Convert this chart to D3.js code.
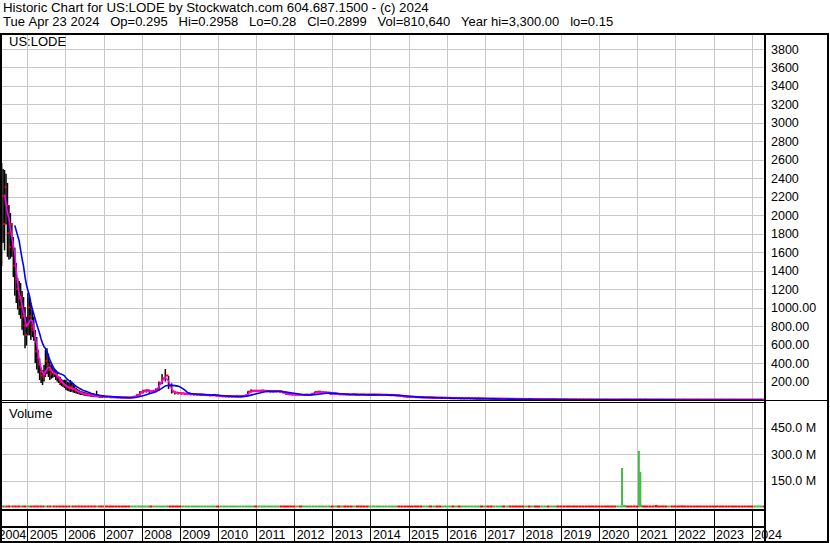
<!DOCTYPE html>
<html><head><meta charset="utf-8">
<script src="https://cdn.jsdelivr.net/npm/d3@7"></script>
<style>body{margin:0;background:#fff}svg{display:block;font-family:Arial,"Liberation Sans",sans-serif}</style>
</head><body><svg id="c" width="830" height="543"></svg>
<script>
// ---------- DATA ----------
const headerLine1 = "Historic Chart for US:LODE by Stockwatch.com 604.687.1500 - (c) 2024";
const headerLine2 = "Tue Apr 23 2024   Op=0.295   Hi=0.2958   Lo=0.28   Cl=0.2899   Vol=810,640   Year hi=3,300.00   lo=0.15";
const symbol = "US:LODE";

// bi-weekly bars, Apr 2004 - Dec 2006
const biweeklyStart = "2004-04-16";
const hi1 = [3080,2566,2500,2490,2450,2350,2110,2024,1916,1765,1650,1483,1320,1290,1267,1180,1115,1007,900,1158,1115,1050,974,900,758,682,541,450,350,325,380,541,560,500,420,380,357,340,325,300,260,249,230,217,220,217,200,190,217,200,184,150,130,120,110,100,95,90,85,80,75,70,65,60,70,60,100,55,50,48,45];
const lo1 = [2250,1450,1700,1620,1900,1550,1520,1530,1550,1330,1130,1050,980,920,880,760,700,560,590,700,700,650,680,640,400,330,290,217,184,162,200,250,280,250,217,230,240,249,217,200,184,162,150,141,130,108,100,95,87,90,80,76,70,65,60,54,54,50,45,45,40,40,35,35,32,30,30,28,25,25,22];
const cl1 = [2500,2200,1900,2300,2100,1800,1650,1900,1700,1450,1300,1200,1100,1000,1100,900,800,700,800,1000,900,780,750,700,520,450,380,300,260,240,300,420,380,320,280,300,290,280,260,240,210,190,180,160,150,140,130,120,140,120,110,100,90,85,80,70,65,60,60,55,50,50,45,45,40,40,45,40,35,35,32];
const vol1 = [9,11,8,10,7,9,12,8,10,9,7,11,8,9,10,7,8,11,9,10,8,7,9,10,12,9,8,10,7,9,11,10,8,9,7,8,10,9,7,8,9,7,8,6,9,7,8,10,7,8,6,7,9,6,8,7,6,8,7,6,7,8,6,7,6,8,7,6,7,6,7];

// monthly bars, Jan 2007 - Apr 2024
const monthlyStart = "2007-01-15";
const hi2 = [40,38,35,36,34,33,32,30,32,40,60,95,
110,115,110,105,125,200,280,335,260,180,95,85,
78,74,70,68,66,64,62,60,58,56,58,55,
48,45,44,43,42,45,44,46,52,95,115,105,
102,108,102,98,97,96,98,100,90,72,66,64,
62,60,58,60,58,70,88,92,86,84,82,72,
70,68,68,66,66,64,66,64,63,64,62,62,
62,60,60,58,58,56,56,54,52,48,42,38,
36,34,33,32,31,30,30,28,28,26,24,23,
22,21,20,20,19,18,20,18,17,16,16,15,
15,14,13,12,12,11,11,10,10,9,9,8,
8,8,7,7,7,6,6,6,5,5,5,4.5,
4.4,4.2,4,3.8,3.6,3.4,3.2,3,2.9,2.8,2.6,2.5,
2.4,2.2,2,1.8,1.6,1.6,1.8,2.5,2.2,2,1.8,1.7,
3,2.5,2,1.8,1.6,1.5,1.4,1.3,1.2,1.1,1,1,
0.95,0.9,0.85,0.8,0.75,0.7,0.7,0.65,0.6,0.6,0.55,0.55,
0.55,0.5,0.5,0.48,0.45,0.45,0.42,0.4,0.4,0.38,0.36,0.35,
0.34,0.33,0.32,0.3];
const lo2 = [22,22,20,20,19,18,18,17,18,20,28,45,
70,80,75,75,85,100,170,200,120,70,60,60,
58,55,52,50,48,47,45,44,42,40,42,38,
32,30,28,28,27,28,28,30,35,55,82,86,
86,88,86,84,82,82,84,82,72,56,52,50,
48,46,46,47,46,52,72,74,72,70,66,56,
54,54,52,52,52,50,52,50,50,50,48,48,
48,47,47,46,46,44,44,42,40,34,30,26,
24,23,22,21,21,20,19,18,18,17,16,15,
14,14,13,13,13,12,13,12,11,11,11,10,
10,9,9,8,8,8,7,7,7,6,6,5,
4,4,4,3.5,3.5,3.2,3,3,2.8,2.6,2.5,2.3,
2.2,2.1,2,1.9,1.8,1.7,1.6,1.5,1.4,1.3,1.2,1.1,
1,0.9,0.7,0.6,0.6,0.6,0.7,0.9,0.9,0.8,0.8,0.7,
0.8,0.9,0.8,0.8,0.7,0.7,0.6,0.6,0.6,0.5,0.5,0.5,
0.5,0.45,0.45,0.4,0.4,0.38,0.36,0.35,0.34,0.32,0.3,0.3,
0.3,0.28,0.28,0.26,0.25,0.24,0.23,0.22,0.2,0.18,0.16,0.15,
0.18,0.2,0.22,0.28];
const cl2 = [30,28,27,26,25,24,24,23,25,32,50,80,
95,100,90,95,110,180,230,260,150,85,75,70,
68,65,62,60,58,56,54,52,50,48,50,46,
40,38,36,36,35,37,36,38,45,85,95,95,
95,98,95,92,90,90,92,90,78,62,58,56,
55,52,52,54,52,62,82,85,80,78,75,62,
62,60,60,58,58,56,58,56,56,56,54,55,
55,54,54,52,52,50,50,48,45,40,35,30,
29,28,27,26,26,25,24,23,22,21,20,19,
18,17,17,16,16,15,16,15,14,14,13,13,
12,11,11,10,10,9,9,8,8,7,7,6,
6,5.8,5.5,5.2,5,4.8,4.5,4.3,4,3.8,3.5,3.2,
3,2.9,2.8,2.7,2.6,2.4,2.3,2.2,2,1.9,1.8,1.7,
1.6,1.5,1.1,1,1,1.1,1.3,1.8,1.5,1.3,1.2,1.1,
1.8,1.5,1.3,1.2,1.1,1,0.9,0.9,0.8,0.8,0.7,0.7,
0.7,0.65,0.6,0.58,0.55,0.5,0.5,0.48,0.45,0.44,0.42,0.4,
0.4,0.38,0.37,0.35,0.34,0.33,0.32,0.3,0.29,0.27,0.25,0.24,
0.26,0.28,0.3,0.29];
const vol2 = [7,6,8,7,6,7,6,8,7,9,10,9,
8,9,7,8,9,11,10,12,9,8,7,8,
7,8,6,7,8,6,7,6,8,7,6,7,
6,7,6,8,6,7,6,7,8,10,9,8,
8,7,9,8,7,8,7,8,9,8,7,8,
7,8,6,7,8,7,9,8,7,8,7,6,
7,6,8,7,6,7,6,8,7,6,7,6,
6,7,6,8,6,7,6,7,6,8,7,6,
7,6,7,6,8,6,7,6,7,6,7,6,
6,7,6,7,6,8,6,7,6,7,6,7,
7,6,8,6,7,6,7,6,8,6,7,6,
6,7,6,7,6,7,8,6,7,6,7,6,
7,6,7,6,8,6,7,6,7,6,7,8,
7,8,9,7,6,7,8,14,9,8,7,8,
16,12,9,8,10,14,8,7,8,9,8,7,
8,12,7,8,7,6,8,7,9,7,6,7,
7,6,7,8,6,7,9,6,7,6,7,8,
7,6,7,6];
// weekly volume spikes (millions)
const spikeDates = ["2020-08-07","2021-01-15","2021-01-29"];
const spikeVols = [222,318,200];

const priceTicks = [200,400,600,800,1000,1200,1400,1600,1800,2000,2200,2400,2600,2800,3000,3200,3400,3600,3800];
const priceLabels = ["200.00","400.00","600.00","800.00","1000.00","1200","1400","1600","1800","2000","2200","2400","2600","2800","3000","3200","3400","3600","3800"];
const volTicks = [150,300,450];
const volLabels = ["150.0 M","300.0 M","450.0 M"];
const years = [2004,2005,2006,2007,2008,2009,2010,2011,2012,2013,2014,2015,2016,2017,2018,2019,2020,2021,2022,2023,2024];

// ---------- BUILD ----------
const parse = d3.timeParse("%Y-%m-%d");
const bars = [];
const b0 = parse(biweeklyStart);
hi1.forEach((h,i)=>bars.push({date:d3.timeDay.offset(b0,14*i),h,l:lo1[i],c:cl1[i],v:vol1[i],step:14}));
const m0 = parse(monthlyStart);
hi2.forEach((h,i)=>bars.push({date:d3.timeMonth.offset(m0,i),h,l:lo2[i],c:cl2[i],v:vol2[i],step:30.4}));
bars.forEach((b,i)=>{ b.up = b.c >= (b.h+b.l)/2 || (i>0 && b.c > bars[i-1].c); });

function movingAvg(days, minDays){
  const first = bars[0].date.getTime(), win = days*864e5, out=[];
  bars.forEach((b,i)=>{
    const t=b.date.getTime();
    if(t-first < minDays*864e5) return;
    let s=0,n=0;
    for(let j=i;j>=0 && t-bars[j].date.getTime()<win;j--){s+=bars[j].c;n++;}
    out.push({date:b.date,v:s/n});
  });
  return out;
}
const maShort = movingAvg(49,42), maLong = movingAvg(190,140);

const svg = d3.select("#c");
const x = d3.scaleTime().domain([new Date(2005,0,1), new Date(2024,0,1)]).range([27.3, 751.7]);
const y = d3.scaleLinear().domain([0,3800]).range([400,49]);
const yv = d3.scaleLinear().domain([0,450]).range([507.5,427.5]);
const PL=2, PR=764, PT=34, PB=400, VT=403, VB=509;
const grid="#c8c8c8";
const nb = s => s.replace(/ /g,"\u00a0");

svg.append("rect").attr("width",830).attr("height",543).attr("fill","#fff");

// header
const hdr = svg.append("g").attr("fill","#000");
hdr.append("text").attr("x",3).attr("y",12).attr("font-size","13.3px").text(nb(headerLine1));
hdr.append("text").attr("x",3).attr("y",26).attr("font-size","13px").text(nb(headerLine2));

const yearX = years.map(yr=>x(new Date(yr,0,1)));

// grids
const g = svg.append("g").attr("stroke",grid).attr("stroke-width",1).attr("shape-rendering","crispEdges");
yearX.forEach((xx,i)=>{ if(i===0) return;
  const px = Math.round(xx)+0.5;
  g.append("line").attr("x1",px).attr("x2",px).attr("y1",PT).attr("y2",PB);
  g.append("line").attr("x1",px).attr("x2",px).attr("y1",VT).attr("y2",VB);
});
priceTicks.forEach(t=>g.append("line").attr("x1",PL).attr("x2",PR).attr("y1",Math.round(y(t))+0.5).attr("y2",Math.round(y(t))+0.5));
volTicks.forEach(t=>g.append("line").attr("x1",PL).attr("x2",PR).attr("y1",Math.round(yv(t))+0.5).attr("y2",Math.round(yv(t))+0.5));

// clip
svg.append("clipPath").attr("id","pc").append("rect").attr("x",PL).attr("y",PT).attr("width",PR-PL).attr("height",PB-PT+1);
svg.append("clipPath").attr("id","vc").append("rect").attr("x",PL).attr("y",VT).attr("width",PR-PL).attr("height",VB-VT);

const pg = svg.append("g").attr("clip-path","url(#pc)");
const line = d3.line().x(d=>x(d.date)).y(d=>y(d.v));
pg.selectAll("rect.bar").data(bars).join("rect").attr("class","bar")
  .attr("x",d=>x(d.date)-0.75).attr("width",1.5)
  .attr("y",d=>y(d.h)).attr("height",d=>Math.max(1,y(d.l)-y(d.h))).attr("fill","#000");
pg.selectAll("rect.cl").data(bars).join("rect").attr("class","cl")
  .attr("x",d=>x(d.date)).attr("width",d=>d.step>20?3.2:2)
  .attr("y",d=>y(d.c)-1.5).attr("height",2).attr("fill","#ff0000");
pg.append("path").datum(maShort).attr("d",line).attr("fill","none").attr("stroke","#ff00ff").attr("stroke-width",1.5);
pg.append("path").datum(maLong).attr("d",line).attr("fill","none").attr("stroke","#0000ff").attr("stroke-width",1.6);

// volume
const vg = svg.append("g").attr("clip-path","url(#vc)");
vg.selectAll("rect.v").data(bars).join("rect").attr("class","v")
  .attr("x",d=>x(d.date)).attr("width",d=>Math.max(1,x(d3.timeDay.offset(d.date,d.step))-x(d.date)))
  .attr("y",d=>Math.min(yv(d.v),yv(0)-2)).attr("height",d=>Math.max(2,yv(0)-yv(d.v))).attr("fill",d=>d.up?"#44bb44":"#ff0000");
vg.selectAll("rect.s").data(spikeDates.map((d,i)=>({date:parse(d),v:spikeVols[i]}))).join("rect").attr("class","s")
  .attr("x",d=>x(d.date)-1).attr("width",2)
  .attr("y",d=>yv(d.v)).attr("height",d=>yv(0)-yv(d.v)-2).attr("fill","#44bb44");

// labels
svg.append("text").attr("x",9).attr("y",46).attr("font-size","13px").text(symbol);
svg.append("text").attr("x",9).attr("y",418).attr("font-size","13px").text("Volume");

// right axes
const ax = svg.append("g").attr("transform","translate(766,0)")
  .call(d3.axisRight(y).tickValues(priceTicks).tickFormat((d,i)=>priceLabels[i]).tickSize(0).tickPadding(5));
const axv = svg.append("g").attr("transform","translate(766,0)")
  .call(d3.axisRight(yv).tickValues(volTicks).tickFormat((d,i)=>volLabels[i]).tickSize(0).tickPadding(5));
[ax,axv].forEach(a=>{a.select(".domain").remove();a.attr("font-family",null).attr("font-size",null);
  a.selectAll("text").attr("font-size","12.5px").attr("fill","#000").attr("font-family","Arial,'Liberation Sans',sans-serif");});

// year labels
const yl = svg.append("g").attr("font-size","12.5px").attr("fill","#000");
years.forEach((yr,i)=>{
  if(i===0) yl.append("text").attr("x",yearX[1]-1).attr("y",539).attr("text-anchor","end").text(String(yr));
  else yl.append("text").attr("x",yearX[i]+2.5).attr("y",539).text(String(yr));
});
// year separators in bottom rows
const sep = svg.append("g").attr("fill","#000").attr("shape-rendering","crispEdges");
yearX.forEach((xx,i)=>{ if(i===0) return;
  sep.append("rect").attr("x",Math.round(xx)).attr("width",1).attr("y",510).attr("height",31);
});

// borders
const bd = svg.append("g").attr("fill","#000").attr("shape-rendering","crispEdges");
bd.append("rect").attr("x",0).attr("y",33).attr("width",829).attr("height",2);
bd.append("rect").attr("x",0).attr("y",33).attr("width",2).attr("height",510);
bd.append("rect").attr("x",764).attr("y",33).attr("width",2).attr("height",510);
bd.append("rect").attr("x",827).attr("y",33).attr("width",2).attr("height",510);
bd.append("rect").attr("x",0).attr("y",541).attr("width",829).attr("height",2);
bd.append("rect").attr("x",0).attr("y",400).attr("width",829).attr("height",1);
bd.append("rect").attr("x",0).attr("y",402).attr("width",766).attr("height",1);
bd.append("rect").attr("x",0).attr("y",509).attr("width",766).attr("height",2);
bd.append("rect").attr("x",0).attr("y",526).attr("width",766).attr("height",2);
</script></body></html>
